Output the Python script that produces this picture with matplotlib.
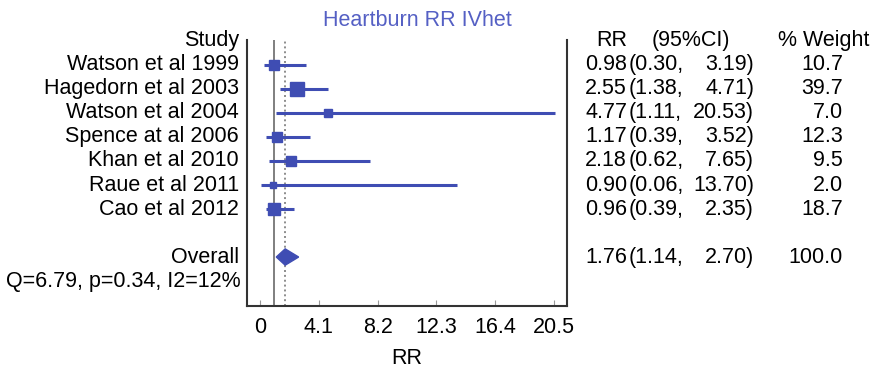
import matplotlib
matplotlib.use("Agg")
import matplotlib.pyplot as plt
from matplotlib.patches import Polygon
import numpy as np

studies = ["Watson et al 1999", "Hagedorn et al 2003", "Watson et al 2004",
           "Spence at al 2006", "Khan et al 2010", "Raue et al 2011", "Cao et al 2012"]
rr = [0.98, 2.55, 4.77, 1.17, 2.18, 0.90, 0.96]
ci_low = [0.30, 1.38, 1.11, 0.39, 0.62, 0.06, 0.39]
ci_high = [3.19, 4.71, 20.53, 3.52, 7.65, 13.70, 2.35]
weight = [10.7, 39.7, 7.0, 12.3, 9.5, 2.0, 18.7]
overall = (1.76, 1.14, 2.70, 100.0)
het_text = "Q=6.79, p=0.34, I2=12%"
xticks = [0, 4.1, 8.2, 12.3, 16.4, 20.5]

BLUE = "#3f4db3"
plt.rcParams['font.family'] = ['Liberation Sans', 'DejaVu Sans']

fig = plt.figure(figsize=(8.82, 3.7), dpi=100)
ax = fig.add_axes([247 / 882, 1 - 306 / 370, 320 / 882, 266 / 370])
ax.set_xlim(-0.9, 21.4)
ax.set_ylim(10.04, -1.04)

# reference lines
ax.axvline(1, color="#7f7f7f", lw=1.4, zorder=1)
ax.axvline(overall[0], color="#8c8c8c", lw=1.4, ls=(0, (1, 1.5)), zorder=1)

for i in range(len(studies)):
    ax.plot([ci_low[i], ci_high[i]], [i, i], color=BLUE, lw=2.2, solid_capstyle="butt", zorder=2)
    side_px = 3.5 + 1.8 * np.sqrt(weight[i])
    ax.plot(rr[i], i, marker="s", ms=side_px * 0.72, color=BLUE, mec=BLUE, zorder=3)

orow = len(studies) + 1
h = 0.34
ax.add_patch(Polygon([(overall[1], orow), (overall[0], orow - h),
                      (overall[2], orow), (overall[0], orow + h)],
                     closed=True, color=BLUE, zorder=3))

# axes styling
ax.spines["top"].set_visible(False)
for s in ["left", "bottom", "right"]:
    ax.spines[s].set_color("#333333")
    ax.spines[s].set_linewidth(1.5)
ax.set_yticks([])
ax.set_xticks(xticks)
fs = 15.5
ax.set_xticklabels(["0", "4.1", "8.2", "12.3", "16.4", "20.5"], fontsize=fs)
ax.tick_params(axis="x", direction="in", length=4, color="#999999", pad=8)
ax.set_xlabel("RR", fontsize=fs, labelpad=7)

fig.text(417 / 882, 1 - 20 / 370, "Heartburn RR IVhet", ha="center", va="center",
         fontsize=15.5, color="#5560c4")

tr = ax.get_yaxis_transform()
ax.text(-0.025, -1, "Study", ha="right", va="center", fontsize=fs, transform=tr, clip_on=False)
for i, name in enumerate(studies):
    ax.text(-0.025, i, name, ha="right", va="center", fontsize=fs, transform=tr, clip_on=False)
ax.text(-0.025, orow, "Overall", ha="right", va="center", fontsize=fs, transform=tr, clip_on=False)
ax.text(-0.02, orow + 1.04, het_text, ha="right", va="center", fontsize=fs, transform=tr, clip_on=False)

# right-hand columns
x_rr = (627 - 247) / 320
x_lo = (629 - 247) / 320
x_hi = (754 - 247) / 320
x_w = (843 - 247) / 320
ax.text(x_rr, -1, "RR", ha="right", va="center", fontsize=fs, transform=tr, clip_on=False)
ax.text((691 - 247) / 320, -1, "(95%CI)", ha="center", va="center", fontsize=fs, transform=tr, clip_on=False)
ax.text((778 - 247) / 320, -1, "% Weight", ha="left", va="center", fontsize=fs, transform=tr, clip_on=False)

rows = list(zip(rr, ci_low, ci_high, weight, range(len(studies))))
rows.append((overall[0], overall[1], overall[2], overall[3], orow))
for r, lo, hi, w, y in rows:
    ax.text(x_rr, y, f"{r:.2f}", ha="right", va="center", fontsize=fs, transform=tr, clip_on=False)
    ax.text(x_lo, y, f"({lo:.2f},", ha="left", va="center", fontsize=fs, transform=tr, clip_on=False)
    ax.text(x_hi, y, f"{hi:.2f})", ha="right", va="center", fontsize=fs, transform=tr, clip_on=False)
    ax.text(x_w, y, f"{w:.1f}", ha="right", va="center", fontsize=fs, transform=tr, clip_on=False)

fig.savefig("out.png", dpi=100)
